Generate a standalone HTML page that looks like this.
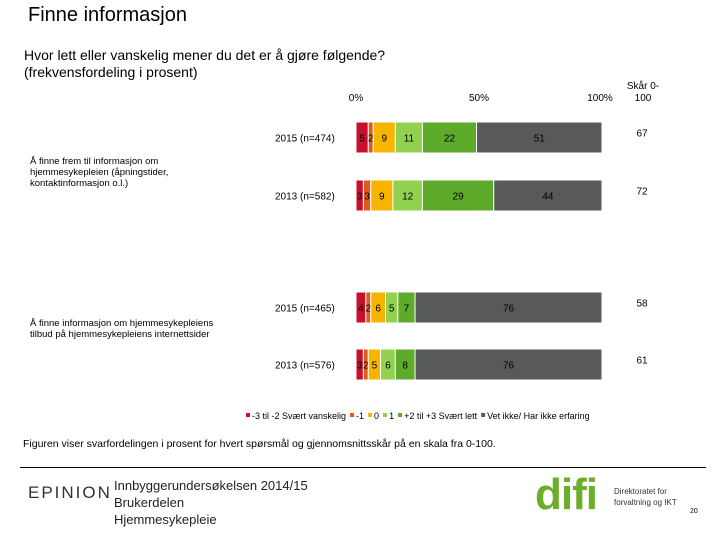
<!DOCTYPE html>
<html><head><meta charset="utf-8"><style>
body{margin:0;width:720px;height:540px;background:#fff;font-family:"Liberation Sans",sans-serif;position:relative;overflow:hidden}
.t{position:absolute;white-space:nowrap;color:#000}
</style></head><body>
<div class="t" style="left:28px;top:4px;font-size:20px">Finne informasjon</div>
<div class="t" style="left:24px;top:47px;font-size:14px;line-height:17px">Hvor lett eller vanskelig mener du det er å gjøre følgende?<br>(frekvensfordeling i prosent)</div>
<svg id="c" width="720" height="540" style="position:absolute;left:0;top:0"></svg>
<div class="t" style="left:23px;top:438px;font-size:10.5px">Figuren viser svarfordelingen i prosent for hvert spørsmål og gjennomsnittsskår på en skala fra 0-100.</div>
<div style="position:absolute;left:20px;top:467px;width:686px;height:1px;background:#000"></div>
<div class="t" style="left:28px;top:483px;font-size:17px;letter-spacing:2px;color:#333">EPINION</div>
<div class="t" style="left:114px;top:477px;font-size:13px;line-height:17px;color:#222">Innbyggerundersøkelsen 2014/15<br>Brukerdelen<br>Hjemmesykepleie</div>
<div class="t" style="left:535px;top:470px;font-size:44px;font-weight:bold;color:#6aae2a;letter-spacing:-1px">difi</div>
<div class="t" style="left:614px;top:486px;font-size:8px;line-height:11px;color:#333">Direktoratet for<br>forvaltning og IKT</div>
<div class="t" style="left:690px;top:508px;font-size:7px">20</div>
<script>
const categories=["2015 (n=474)","2013 (n=582)","2015 (n=465)","2013 (n=576)"];
const questions=["Å finne frem til informasjon om\nhjemmesykepleien (åpningstider,\nkontaktinformasjon o.l.)","Å finne informasjon om hjemmesykepleiens\ntilbud på hjemmesykepleiens internettsider"];
const seriesNames=["-3 til -2 Svært vanskelig","-1","0","1","+2 til +3 Svært lett","Vet ikke/ Har ikke erfaring"];
const s1=[5,3,4,3];
const s2=[2,3,2,2];
const s3=[9,9,6,5];
const s4=[11,12,5,6];
const s5=[22,29,7,8];
const s6=[51,44,76,76];
const scores=[67,72,58,61];
const colors=["#c8102e","#e05a1a","#f8b500","#92d050","#5eaa2a","#58595b"];
const series=[s1,s2,s3,s4,s5,s6];
const svg=document.getElementById('c');const NS="http://www.w3.org/2000/svg";
const x0=356,x1=602;const xs=v=>x0+(x1-x0)*v/100;
const rowY=[122,180,292,349],bh=31;
function mk(tag,attrs,name,text){const e=document.createElementNS(NS,tag);for(const k in attrs)e.setAttribute(k,attrs[k]);


if(text!==undefined)e.textContent=text;svg.appendChild(e);return e;}
[[0,"0%"],[50,"50%"],[100,"100%"]].forEach(([v,l])=>mk('text',{x:xs(v)+(v==100?-2:0),y:101,'font-size':10,'text-anchor':'middle','font-family':'Liberation Sans'},'x-tick-label',l));
mk('text',{x:643,y:89,'font-size':10,'text-anchor':'middle','font-family':'Liberation Sans'},'score-header','Skår 0-');
mk('text',{x:643,y:101,'font-size':10,'text-anchor':'middle','font-family':'Liberation Sans'},'score-header','100');
categories.forEach((c,i)=>{const y=rowY[i];
mk('text',{x:275,y:y+bh/2+4,'font-size':10,'font-family':'Liberation Sans'},'category-label',c);
let acc=0;series.forEach((s,j)=>{const v=s[i];
mk('rect',{x:xs(acc),y:y,width:xs(acc+v)-xs(acc),height:bh,fill:colors[j],stroke:'#fff','stroke-width':1},'bar-segment');
mk('text',{x:(xs(acc)+xs(acc+v))/2,y:y+bh/2+4,'font-size':10,'text-anchor':'middle','font-family':'Liberation Sans'},'value-label',v);
acc+=v;});
mk('text',{x:642,y:y+bh/2-1,'font-size':10,'text-anchor':'middle','font-family':'Liberation Sans'},'score-value',scores[i]);
});
questions.forEach((q,i)=>{q.split("\n").forEach((l,k)=>mk('text',{x:30,y:[164,326][i]+k*11,'font-size':9.5,'font-family':'Liberation Sans'},'question-label',l));});
let lx=246;seriesNames.forEach((n,j)=>{mk('rect',{x:lx,y:413,width:4,height:4,fill:colors[j]},'legend-swatch');
const t=mk('text',{x:lx+6,y:419,'font-size':9,'font-family':'Liberation Sans'},'legend-entry',n);lx+=6+t.getComputedTextLength()+4;});
</script>
</body></html>
